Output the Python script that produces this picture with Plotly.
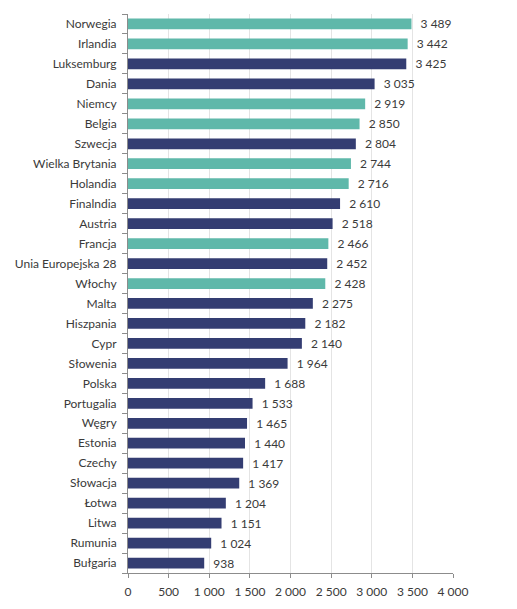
import plotly.graph_objects as go

countries = ["Norwegia", "Irlandia", "Luksemburg", "Dania", "Niemcy", "Belgia", "Szwecja",
             "Wielka Brytania", "Holandia", "Finalndia", "Austria", "Francja",
             "Unia Europejska 28", "Włochy", "Malta", "Hiszpania", "Cypr", "Słowenia",
             "Polska", "Portugalia", "Węgry", "Estonia", "Czechy", "Słowacja", "Łotwa",
             "Litwa", "Rumunia", "Bułgaria"]
values = [3489, 3442, 3425, 3035, 2919, 2850, 2804, 2744, 2716, 2610, 2518, 2466,
          2452, 2428, 2275, 2182, 2140, 1964, 1688, 1533, 1465, 1440, 1417, 1369, 1204,
          1151, 1024, 938]
highlight = [1, 1, 0, 0, 1, 1, 0, 1, 1, 0, 0, 1, 0, 1, 0, 0, 0, 0, 0, 0, 0, 0, 0, 0,
             0, 0, 0, 0]
x_ticks = [0, 500, 1000, 1500, 2000, 2500, 3000, 3500, 4000]

TEAL = "#5fb8aa"
NAVY = "#343d72"
colors = [TEAL if h else NAVY for h in highlight]
FONT = "Lato"
TXT = "#3a3a3a"

fig = go.Figure(go.Bar(
    y=countries,
    x=values,
    orientation="h",
    marker=dict(color=colors, line=dict(width=0)),
    texttemplate="  %{x:,}",
    textposition="outside",
    constraintext="none",
    textfont=dict(size=12, color=TXT, family=FONT),
    cliponaxis=False,
    hoverinfo="x+y",
))

fig.update_layout(
    width=517, height=609,
    margin=dict(l=120, r=72, t=6, b=44, autoexpand=False),
    paper_bgcolor="white",
    plot_bgcolor="white",
    separators=", ",
    bargap=0.46,
    showlegend=False,
    font=dict(family=FONT, size=12, color=TXT),
    xaxis=dict(
        range=[0, 4000],
        tickvals=x_ticks,
        tickformat=",",
        automargin=False,
        showgrid=True, gridcolor="#e4e4e4", gridwidth=1,
        showline=True, linecolor="#8c8c8c", linewidth=1,
        ticks="outside", ticklen=4, tickcolor="#8c8c8c",
        ticklabelstandoff=4,
        zeroline=False,
        tickfont=dict(size=12, family=FONT, color=TXT),
    ),
    yaxis=dict(
        categoryorder="array",
        categoryarray=countries[::-1],
        autorange=False,
        automargin=False,
        range=[-0.5, len(countries) - 0.5],
        showline=True, linecolor="#8c8c8c", linewidth=1,
        ticks="outside", ticklen=5, tickcolor="#8c8c8c",
        tickson="boundaries",
        ticklabelstandoff=8,
        showgrid=False,
        tickfont=dict(size=12, family=FONT, color=TXT),
    ),
)

fig.write_html("out.html")
